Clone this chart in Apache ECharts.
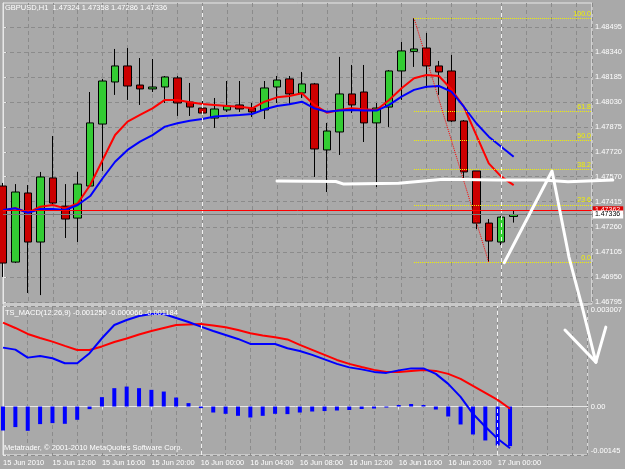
<!DOCTYPE html>
<html>
<head>
<meta charset="utf-8">
<title>GBPUSD,H1</title>
<script src="https://cdn.jsdelivr.net/npm/echarts@6/dist/echarts.min.js"></script>
<style>
  html, body { margin: 0; padding: 0; background: #a9a9a9; }
  #chart { width: 625px; height: 469px; }
</style>
</head>
<body>
<div id="chart"></div>
<script>
// GBPUSD H1, one candle per hour from 15 Jun 08:00 to 17 Jun 01:00
var timeLabels = ['15 Jun 2010', '15 Jun 12:00', '15 Jun 16:00', '15 Jun 20:00', '16 Jun 00:00',
  '16 Jun 04:00', '16 Jun 08:00', '16 Jun 12:00', '16 Jun 16:00', '16 Jun 20:00', '17 Jun 00:00']
var labelIndex = [0, 4, 8, 12, 16, 20, 24, 28, 32, 36, 40]
var daySeparators = [16, 40]

var opens = [1.47512, 1.47042, 1.47469, 1.47166, 1.47562, 1.47388, 1.47314, 1.47512, 1.47895, 1.48155,
  1.48254, 1.48136, 1.48112, 1.48124, 1.48180, 1.48031, 1.47994, 1.47932, 1.47982, 1.48013,
  1.47994, 1.47982, 1.48124, 1.48174, 1.48087, 1.48143, 1.47735, 1.47846, 1.48081, 1.48093,
  1.47902, 1.48000, 1.48223, 1.48344, 1.48365, 1.48254, 1.48223, 1.47914, 1.47605, 1.47283,
  1.47166, 1.47324]
var closes = [1.47036, 1.47475, 1.47166, 1.47568, 1.47407, 1.47308, 1.47524, 1.47902, 1.48161, 1.48254,
  1.48130, 1.48112, 1.48124, 1.48186, 1.48025, 1.48000, 1.47963, 1.47988, 1.48007, 1.47988,
  1.47970, 1.48118, 1.48167, 1.48081, 1.48143, 1.47741, 1.47852, 1.48081, 1.48013, 1.47902,
  1.47994, 1.48223, 1.48347, 1.48359, 1.48254, 1.48217, 1.47914, 1.47599, 1.47283, 1.47172,
  1.47320, 1.47336]
var lows = [1.46950, 1.47036, 1.46851, 1.46838, 1.47395, 1.47191, 1.47166, 1.47506, 1.47605, 1.48075,
  1.48044, 1.48013, 1.48093, 1.48025, 1.47945, 1.47945, 1.47951, 1.47871, 1.47970, 1.47970,
  1.47939, 1.47926, 1.48025, 1.48013, 1.48056, 1.47568, 1.47475, 1.47704, 1.47963, 1.47784,
  1.47506, 1.47877, 1.48044, 1.48248, 1.48118, 1.48075, 1.47908, 1.47549, 1.47246, 1.47040,
  1.47147, 1.47286]
var highs = [1.47531, 1.47524, 1.47518, 1.47599, 1.47821, 1.47524, 1.47599, 1.48093, 1.48174, 1.48359,
  1.48365, 1.48303, 1.48297, 1.48192, 1.48192, 1.48149, 1.48062, 1.48056, 1.48161, 1.48161,
  1.48025, 1.48161, 1.48192, 1.48192, 1.48217, 1.48149, 1.47902, 1.48310, 1.48260, 1.48260,
  1.48025, 1.48229, 1.48402, 1.48549, 1.48458, 1.48285, 1.48322, 1.47920, 1.47605, 1.47308,
  1.47327, 1.47358]

// moving averages (red fast, blue slow)
var maRed = [1.47359, 1.47376, 1.47347, 1.47384, 1.47395, 1.47374, 1.47405, 1.47518, 1.47673, 1.47827,
  1.47910, 1.47951, 1.47992, 1.48044, 1.48044, 1.48030, 1.48019, 1.48013, 1.48007, 1.48002,
  1.47992, 1.48033, 1.48060, 1.48068, 1.48085, 1.48013, 1.47965, 1.47982, 1.47992, 1.47986,
  1.47982, 1.48044, 1.48116, 1.48178, 1.48198, 1.48192, 1.48110, 1.48002, 1.47827, 1.47652,
  1.47570, 1.47518]
var maBlue = [1.47364, 1.47374, 1.47347, 1.47370, 1.47370, 1.47364, 1.47395, 1.47450, 1.47560, 1.47662,
  1.47735, 1.47786, 1.47827, 1.47879, 1.47900, 1.47916, 1.47926, 1.47941, 1.47947, 1.47951,
  1.47957, 1.47986, 1.48007, 1.48017, 1.48033, 1.47992, 1.47971, 1.47978, 1.47982, 1.47978,
  1.47978, 1.48013, 1.48064, 1.48106, 1.48126, 1.48130, 1.48095, 1.48002, 1.47900, 1.47817,
  1.47755, 1.47693]

// TS_MACD(12,26,9)
var macdLine = [0.001762, 0.001702, 0.001463, 0.001514, 0.001445, 0.001296, 0.001296, 0.001595, 0.002042, 0.002440,
  0.002589, 0.002708, 0.002768, 0.002768, 0.002649, 0.002529, 0.002389, 0.002260, 0.002141, 0.002022,
  0.001872, 0.001872, 0.001872, 0.001744, 0.001663, 0.001544, 0.001409, 0.001275, 0.001171, 0.001111,
  0.001036, 0.001006, 0.001081, 0.001141, 0.001141, 0.000976, 0.000678, 0.000290, -0.000218, -0.000606,
  -0.000964, -0.001250]
var signalLine = [0.002508, 0.002350, 0.002171, 0.002051, 0.001941, 0.001813, 0.001693, 0.001693, 0.001798, 0.001932,
  0.002036, 0.002156, 0.002260, 0.002350, 0.002440, 0.002455, 0.002469, 0.002425, 0.002371, 0.002290,
  0.002192, 0.002126, 0.002072, 0.002007, 0.001842, 0.001693, 0.001544, 0.001394, 0.001275, 0.001185,
  0.001096, 0.001036, 0.001036, 0.001066, 0.001096, 0.001066, 0.000976, 0.000827, 0.000618, 0.000409,
  0.000200, -0.000066]
var histogram = [-0.000717, -0.000615, -0.000726, -0.000526, -0.000496, -0.000517, -0.000397, -0.000078, 0.000281, 0.000549,
  0.000597, 0.000549, 0.000499, 0.000448, 0.000269, 0.000102, -0.000048, -0.000179, -0.000218, -0.000278,
  -0.000328, -0.000278, -0.000218, -0.000227, -0.000179, -0.000149, -0.000135, -0.000119, -0.000104, -0.000074,
  -0.000060, -0.000030, 0.000045, 0.000075, 0.000045, -0.000090, -0.000298, -0.000537, -0.000836, -0.001015,
  -0.001164, -0.001184]

var priceTicks = [1.46795, 1.4695, 1.47105, 1.4726, 1.47415, 1.4757, 1.4772, 1.47875, 1.4803, 1.48185, 1.4834, 1.48495]
var macdTicks = [-0.00145, 0, 0.003007]
var macdTickLabels = ['-0.00145', '0.00', '0.003007']

// fibonacci from the 16 Jun 17:00 high to the 16 Jun 23:00 low
var fibFrom = [33, 1.48549]
var fibTo = [39, 1.47040]
var fibRatios = [0, 23.6, 38.2, 50, 61.8, 100]
var redLevel = 1.47362
var bidPrice = 1.47336

// hand drawn white marks, [bar index, price]
var drawnLevel = [[22, 1.47543], [26.72, 1.47540], [27.36, 1.47524], [31.76, 1.47529], [35.36, 1.47554],
  [39.76, 1.47549], [43.36, 1.47549], [45.36, 1.47539], [48.96, 1.47549]]
var drawnArrow = [[40.24, 1.47038], [44.08, 1.47605], [45.44, 1.47073], [46.56, 1.46746], [47.6, 1.46424]]
var arrowHeadLeft = [[45.12, 1.46622], [47.6, 1.46424]]
var arrowHeadRight = [[48.4, 1.46640], [47.6, 1.46424]]

var font = 'Liberation Sans'
var gridColor = '#8b8b8b'
var frameColor = '#e8e8e8'
var xMax = 47.28

function withIndex(arr) {
  return arr.map(function (v, i) { return [i, v] })
}

var candles = opens.map(function (o, i) {
  return [i, o, closes[i], lows[i], highs[i]]
})
var last = candles.length - 1
var header = 'GBPUSD,H1  ' + [opens[last], highs[last], lows[last], closes[last]].map(function (v) {
  return v.toFixed(5)
}).join(' ')
var macdHeader = 'TS_MACD(12,26,9) ' + macdLine[last].toFixed(6) + ' ' + signalLine[last].toFixed(6) +
  ' ' + histogram[last].toFixed(6)

var fibLines = fibRatios.map(function (r) {
  var level = fibTo[1] + (fibFrom[1] - fibTo[1]) * r / 100
  return [
    { coord: [fibFrom[0], level], name: r.toFixed(1) },
    { coord: [xMax, level] }
  ]
})

function priceLine(level, lineColor, boxColor, textColor) {
  return [
    { coord: [0, level], name: level.toFixed(5),
      lineStyle: { color: lineColor, width: 1, type: 'solid' },
      label: { position: 'end', distance: 1, backgroundColor: boxColor, color: textColor,
        padding: [1, 3, 0, 2] } },
    { coord: [xMax, level] }
  ]
}

function daySeparatorLines() {
  return {
    silent: true,
    symbol: ['none', 'none'],
    label: { show: false },
    lineStyle: { color: '#f0f0f0', type: [4, 3], width: 1 },
    data: daySeparators.map(function (k) { return { xAxis: k } })
  }
}

var textStyle = { color: '#ffffff', fontSize: 7.5, fontWeight: 'normal', fontFamily: font }

var chart = echarts.init(document.getElementById('chart'), null, { width: 625, height: 469 })

var option = {
  backgroundColor: '#a9a9a9',
  animation: false,
  textStyle: { fontFamily: font },
  title: [
    { text: header, left: 5, top: 4, padding: 0, textStyle: textStyle },
    { text: macdHeader, left: 5, top: 309, padding: 0, textStyle: textStyle },
    { text: 'Metatrader, \u00a9 2001-2010 MetaQuotes Software Corp.', left: 4, top: 444, padding: 0,
      textStyle: textStyle }
  ],
  grid: [
    { left: 3, right: 31, top: 3, bottom: 165, show: true, borderColor: frameColor, borderWidth: 1 },
    { left: 3, right: 31, top: 306, bottom: 14, show: true, borderColor: frameColor, borderWidth: 1 }
  ],
  xAxis: [
    {
      gridIndex: 0, type: 'value', min: 0, max: xMax, interval: 2,
      axisLine: { show: false }, axisTick: { show: false }, axisLabel: { show: false },
      splitLine: { show: true, lineStyle: { color: gridColor, type: [4, 3] } }
    },
    {
      gridIndex: 1, type: 'value', min: 0, max: xMax, position: 'bottom',
      axisLine: { show: true, lineStyle: { color: frameColor } },
      axisTick: { show: true, customValues: labelIndex, length: 3, lineStyle: { color: frameColor } },
      axisLabel: {
        customValues: labelIndex, color: '#ffffff', fontSize: 7.5, margin: 4, align: 'left',
        formatter: function (v) { return timeLabels[labelIndex.indexOf(v)] }
      },
      splitLine: { show: false }
    },
    {
      gridIndex: 1, type: 'value', min: 0, max: xMax, interval: 2, position: 'top',
      axisLine: { show: false }, axisTick: { show: false }, axisLabel: { show: false },
      splitLine: { show: true, lineStyle: { color: gridColor, type: [4, 3] } }
    }
  ],
  yAxis: [
    {
      gridIndex: 0, type: 'value', position: 'right', min: 1.46783, max: 1.48643,
      axisLine: { show: true, lineStyle: { color: frameColor } },
      axisTick: { show: true, customValues: priceTicks, length: 3, lineStyle: { color: frameColor } },
      axisLabel: {
        customValues: priceTicks, color: '#ffffff', fontSize: 7.5, margin: 3,
        formatter: function (v) { return v.toFixed(5) }
      },
      splitLine: { show: true, lineStyle: { color: gridColor, type: [4, 3] } }
    },
    {
      gridIndex: 1, type: 'value', position: 'right', min: -0.00145, max: 0.003007,
      axisLine: { show: true, lineStyle: { color: frameColor } },
      axisTick: { show: true, customValues: macdTicks, length: 3, lineStyle: { color: frameColor } },
      axisLabel: {
        customValues: macdTicks, color: '#ffffff', fontSize: 7.5, margin: 3,
        verticalAlignMaxLabel: 'top', verticalAlignMinLabel: 'bottom',
        formatter: function (v) { return macdTickLabels[macdTicks.indexOf(v)] }
      },
      splitLine: { show: true, lineStyle: { color: gridColor, type: [4, 3] } }
    }
  ],
  series: [
    {
      name: 'GBPUSD', type: 'candlestick', xAxisIndex: 0, yAxisIndex: 0,
      data: candles, barWidth: 8,
      itemStyle: {
        color: '#33cc33', color0: '#cc0000',
        borderColor: '#000000', borderColor0: '#000000', borderWidth: 1
      },
      markLine: daySeparatorLines()
    },
    {
      name: 'MA red', type: 'line', xAxisIndex: 0, yAxisIndex: 0, data: withIndex(maRed),
      symbol: 'none', lineStyle: { color: '#ff0000', width: 2 }
    },
    {
      name: 'MA blue', type: 'line', xAxisIndex: 0, yAxisIndex: 0, data: withIndex(maBlue),
      symbol: 'none', lineStyle: { color: '#0000ff', width: 2 }
    },
    {
      name: 'fibo', type: 'line', xAxisIndex: 0, yAxisIndex: 0, data: [fibFrom, fibTo],
      symbol: 'none', lineStyle: { color: '#ff0000', width: 1, type: 'dotted' },
      markLine: {
        silent: true, symbol: ['none', 'none'],
        lineStyle: { color: '#f0f000', width: 1, type: 'dotted' },
        label: { show: true, position: 'insideEndTop', distance: 1, color: '#f0f000', fontSize: 7,
          formatter: function (p) { return p.name } },
        data: fibLines.concat([
          priceLine(redLevel, '#ff0000', '#e00000', '#ffffff'),
          priceLine(bidPrice, '#7a7a7a', '#ffffff', '#000000')
        ])
      }
    },
    {
      name: 'histogram', type: 'bar', xAxisIndex: 1, yAxisIndex: 1, data: withIndex(histogram),
      barWidth: 4, itemStyle: { color: '#0000ff' },
      markLine: daySeparatorLines()
    },
    {
      name: 'signal', type: 'line', xAxisIndex: 1, yAxisIndex: 1, data: withIndex(signalLine),
      symbol: 'none', lineStyle: { color: '#ff0000', width: 2 }
    },
    {
      name: 'macd', type: 'line', xAxisIndex: 1, yAxisIndex: 1, data: withIndex(macdLine),
      symbol: 'none', lineStyle: { color: '#0000ff', width: 2 }
    }
  ]
}

chart.setOption(option)

// the white pen marks run over the price scale, so place them through the grid's own conversion
function toPixels(points) {
  return points.map(function (p) {
    return chart.convertToPixel({ xAxisIndex: 0, yAxisIndex: 0 }, p)
  })
}
chart.setOption({
  graphic: [drawnLevel, drawnArrow, arrowHeadLeft, arrowHeadRight].map(function (pts) {
    return {
      type: 'polyline', silent: true, z: 100,
      shape: { points: toPixels(pts) },
      style: { stroke: '#ffffff', lineWidth: 3, fill: null, lineCap: 'round', lineJoin: 'round' }
    }
  })
})
</script>
</body>
</html>
